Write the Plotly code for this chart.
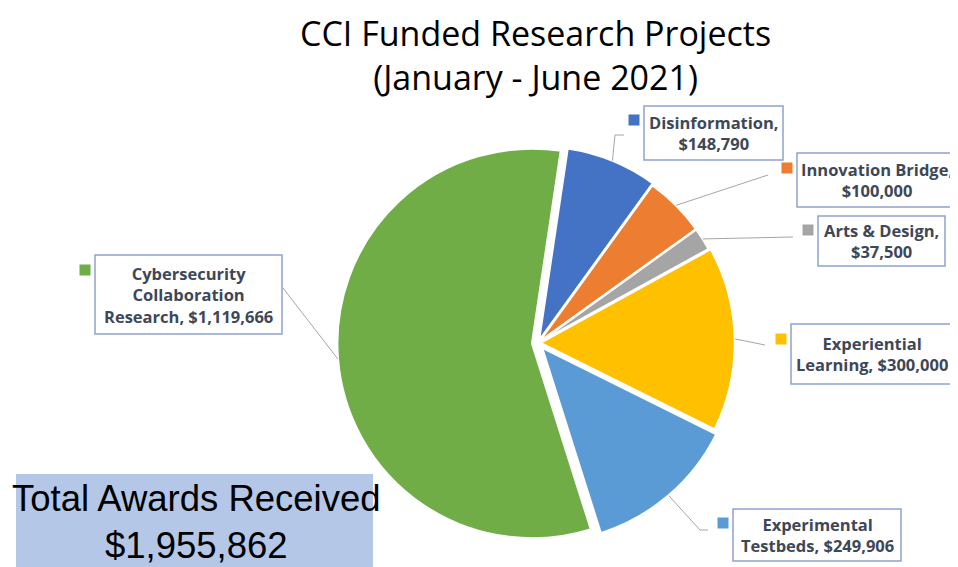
import math
import plotly.graph_objects as go

# ---- data ----
categories = ["Disinformation", "Innovation Bridge", "Arts & Design",
              "Experiential Learning", "Experimental Testbeds",
              "Cybersecurity Collaboration Research"]
values = [148790, 100000, 37500, 300000, 249906, 1119666]
label_text = ["Disinformation,<br>$148,790",
              "Innovation Bridge,<br>$100,000",
              "Arts & Design,<br>$37,500",
              "Experiential<br>Learning, $300,000",
              "Experimental<br>Testbeds, $249,906",
              "Cybersecurity<br>Collaboration<br>Research, $1,119,666"]
colors = ["#4472C4", "#ED7D31", "#A5A5A5", "#FFC000", "#5B9BD5", "#70AD47"]
pulls = [0.01, 0.0, 0.0, 0.01, 0.03, 0.03]
title_text = "CCI Funded Research Projects<br>(January - June 2021)"
total_label = "Total Awards Received<br>$1,955,862"

W, H = 958, 567
OFF = 8  # page body margin
ROT = 8.5
CX, CY, R = 538, 343, 195  # pixel center / radius of pie (screen coords)


def px(x):
    return (x - OFF) / W


def py(y):
    return 1 - (y - OFF) / H


maxpull = max(pulls)
half = R * (1 + maxpull)
domain_x = [px(CX - half), px(CX + half)]
domain_y = [py(CY + half), py(CY - half)]

fig = go.Figure(go.Pie(
    labels=categories, values=values, sort=False, direction="clockwise",
    rotation=ROT, pull=pulls, textinfo="none", hoverinfo="label+value",
    marker=dict(colors=colors, line=dict(color="white", width=2.5)),
    domain=dict(x=domain_x, y=domain_y), showlegend=False,
))

# label boxes: (x0, y0, x1, y1) in pixels, marker centre
boxes = [(644, 106, 783, 160), (797, 153, 962, 207), (818, 216, 945, 266),
         (791, 324, 953, 384), (733, 509, 901, 561), (95, 255, 282, 334)]
markers = [(634, 120), (787, 168), (808, 230), (781, 339), (723, 523), (85, 270)]
# text anchor: None = box centre, number = left x
text_left = [None, 799, None, None, None, None]
# leader line end points (label side)
leader_ends = [[(615, 135), (624, 135)], [(768, 175)], [(793, 237)],
               [(765, 345)], [(700, 530), (708, 530)], [(283, 288)]]

shapes = []
annotations = []
tot = sum(values)
cum = 0
for i, v in enumerate(values):
    mid = ROT + (cum + v / 2) / tot * 360
    cum += v
    a = math.radians(mid)
    rr = R * (1 + pulls[i])
    sx = CX + rr * math.sin(a)
    sy = CY - rr * math.cos(a)
    pts = [(sx, sy)] + leader_ends[i]
    path = "M " + " L ".join(f"{px(x)},{py(y)}" for x, y in pts)
    shapes.append(dict(type="path", xref="paper", yref="paper", path=path,
                       line=dict(color="#A6A6A6", width=1)))
    x0, y0, x1, y1 = boxes[i]
    shapes.append(dict(type="rect", xref="paper", yref="paper",
                       x0=px(x0), x1=px(x1), y0=py(y1), y1=py(y0),
                       line=dict(color="#8EA3CB", width=1.5), fillcolor="white"))
    mx, my = markers[i]
    shapes.append(dict(type="rect", xref="paper", yref="paper",
                       x0=px(mx - 5.5), x1=px(mx + 5.5), y0=py(my + 5.5), y1=py(my - 5.5),
                       line=dict(width=0), fillcolor=colors[i]))
    if text_left[i] is None:
        ax, anch = px((x0 + x1) / 2), "center"
    else:
        ax, anch = px(text_left[i]), "left"
    annotations.append(dict(xref="paper", yref="paper", x=ax,
                            y=py((y0 + y1) / 2), text="<b>" + label_text[i] + "</b>",
                            showarrow=False, xanchor=anch, yanchor="middle",
                            align="center",
                            font=dict(family="Open Sans", size=16.5, color="#3E4757")))

# title
annotations.append(dict(xref="paper", yref="paper", x=px(535), y=py(55),
                        text=title_text, showarrow=False, xanchor="center",
                        yanchor="middle", align="center",
                        font=dict(family="Open Sans", size=34, color="black")))

# total box
shapes.append(dict(type="rect", xref="paper", yref="paper", x0=px(16), x1=px(373),
                   y0=py(575), y1=py(474), line=dict(width=0), fillcolor="#B4C7E7",
                   layer="below"))
annotations.append(dict(xref="paper", yref="paper", x=px(196), y=py(522),
                        text=total_label, showarrow=False, xanchor="center",
                        yanchor="middle", align="center",
                        font=dict(family="Liberation Sans", size=36.5, color="black")))

fig.update_layout(
    width=W, height=H, margin=dict(l=0, r=0, t=0, b=0),
    paper_bgcolor="white", plot_bgcolor="white",
    shapes=shapes, annotations=annotations,
)

fig.write_html("out.html")
